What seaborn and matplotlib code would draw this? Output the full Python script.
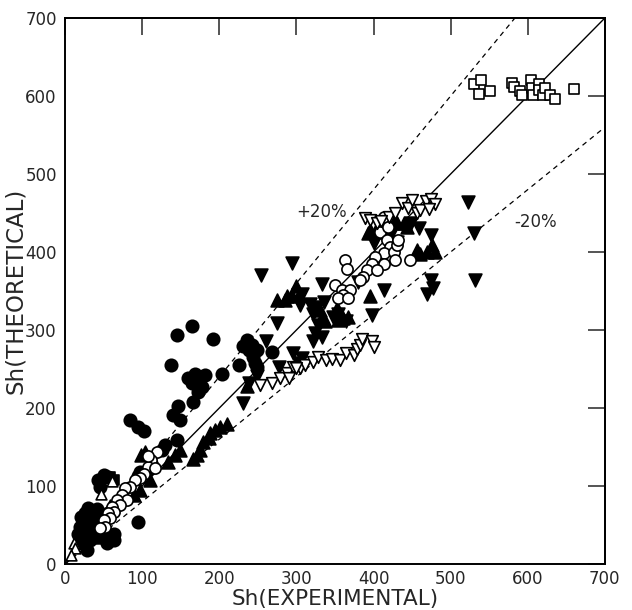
import numpy as np
import pandas as pd
import matplotlib
matplotlib.use("Agg")
import matplotlib.pyplot as plt
import seaborn as sns

# Sherwood number: experimental (x) vs theoretical (y), grouped by data set
filled_circle_x = [145, 164, 192, 138, 171, 164, 182, 177, 166, 140, 147, 149, 84, 95, 102,
                   203, 225, 236, 242, 249, 238, 244, 268, 249, 130, 145, 231, 246, 160, 168,
                   172, 126, 110, 94, 50, 43, 56, 45, 97, 26, 32, 24, 37, 19, 28, 41, 17, 26,
                   32, 54, 63, 63, 95, 50, 22, 28, 38, 45, 35, 20, 30, 55, 42]
filled_circle_y = [294, 305, 289, 255, 234, 232, 242, 227, 208, 191, 202, 185, 185, 176, 170,
                   244, 255, 287, 281, 274, 274, 266, 272, 253, 153, 159, 280, 258, 238, 244,
                   220, 146, 123, 113, 114, 108, 112, 99, 118, 65, 67, 56, 61, 48, 46, 52, 39, 35,
                   31, 27, 31, 39, 54, 35, 27, 18, 45, 40, 55, 60, 72, 65, 70]

open_circle_x = [363, 365, 414, 409, 419, 417, 422, 413, 402, 398, 391, 387, 383, 426, 430,
                 432, 428, 413, 404, 350, 359, 370, 361, 354, 367, 447,
                 119, 112, 108, 117, 102, 97, 91, 84, 78, 74, 80, 67, 71, 61, 63, 56, 58,
                 50, 52, 45, 107]
open_circle_y = [390, 378, 445, 426, 432, 416, 407, 399, 394, 385, 377, 368, 364, 400, 409,
                 415, 390, 385, 377, 358, 351, 351, 345, 341, 341, 390,
                 144, 133, 125, 123, 116, 110, 108, 99, 97, 88, 82, 82, 76, 73, 67, 65, 59,
                 56, 48, 46, 138]

filled_up_x = [396, 402, 393, 428, 430, 439, 443, 456, 460, 469, 476, 480, 396, 331, 333,
               352, 357, 361, 367, 354, 337, 300, 294, 303, 288, 275, 285, 210, 201, 195,
               188, 186, 179, 175, 171, 166, 149, 143, 134, 104, 99, 115, 102, 110, 97, 89,
               236, 30, 40, 35, 20, 48, 58]
filled_up_y = [428, 426, 424, 441, 437, 437, 432, 403, 398, 400, 409, 400, 343, 326, 317,
               328, 321, 315, 317, 313, 311, 356, 343, 345, 343, 339, 339, 180, 176, 172,
               168, 161, 157, 146, 140, 135, 146, 140, 131, 144, 140, 131, 118, 108, 95, 88,
               228, 40, 35, 50, 30, 62, 75]

filled_down_x = [254, 294, 317, 307, 275, 260, 249, 231, 296, 304, 278, 522, 530, 532, 475,
                 475, 477, 469, 398, 414, 380, 333, 322, 328, 322, 333, 354, 364, 336, 401,
                 422, 448, 459, 325, 305, 238, 307, 348, 402, 430, 324]
filled_down_y = [371, 386, 334, 346, 309, 286, 241, 206, 271, 258, 253, 464, 424, 364, 422,
                 364, 354, 346, 319, 351, 361, 359, 321, 306, 286, 291, 321, 311, 336, 411,
                 421, 437, 431, 329, 332, 232, 264, 317, 415, 413, 296]

open_down_x = [389, 396, 404, 437, 445, 450, 456, 460, 468, 475, 480, 472, 420, 428, 410,
               253, 268, 279, 288, 296, 305, 311, 322, 328, 338, 346, 357, 364, 375, 378,
               383, 385, 398, 401, 291, 299]
open_down_y = [443, 441, 437, 463, 456, 467, 450, 454, 466, 468, 462, 455, 445, 450, 440,
               229, 232, 238, 245, 253, 251, 255, 259, 266, 261, 263, 262, 271, 268, 276,
               281, 289, 286, 278, 238, 251]

open_square_x = [530, 540, 537, 551, 579, 582, 590, 592, 604, 605, 607, 614, 615, 620, 623,
                 629, 635, 660]
open_square_y = [616, 620, 602, 607, 617, 612, 606, 601, 620, 610, 601, 615, 608, 601, 610,
                 601, 596, 609]

open_up_x = [11, 13, 61, 47, 8]
open_up_y = [27, 20, 106, 90, 12]

filled_square_x = [63, 58]
filled_square_y = [108, 112]

tick_values = [0, 100, 200, 300, 400, 500, 600, 700]

sns.set_style("white")
plt.rcParams["font.family"] = ["DejaVu Sans"]

fig = plt.figure(figsize=(6.32, 6.10), dpi=100)
ax = fig.add_axes([0.103, 0.0754, 0.854, 0.895])

# reference lines: perfect agreement and +/-20 %
ax.plot([0, 700], [0, 700], color="black", lw=1.0, zorder=1)
ax.plot([0, 700 / 1.2], [0, 700], color="black", lw=0.9, dashes=(4, 3.5), zorder=1)
ax.plot([0, 700], [0, 560], color="black", lw=0.9, dashes=(4, 3.5), zorder=1)

series = [
    (filled_circle_x, filled_circle_y, "o", "black", 80),
    (filled_up_x, filled_up_y, "^", "black", 85),
    (filled_down_x, filled_down_y, "v", "black", 85),
    (filled_square_x, filled_square_y, "s", "black", 50),
    (open_circle_x, open_circle_y, "o", "white", 65),
    (open_down_x, open_down_y, "v", "white", 70),
    (open_up_x, open_up_y, "^", "white", 60),
    (open_square_x, open_square_y, "s", "white", 55),
]
for xs, ys, mk, face, size in series:
    df = pd.DataFrame({"exp": xs, "theo": ys})
    sns.scatterplot(data=df, x="exp", y="theo", marker=mk, s=size, color=face,
                    edgecolor="black", linewidth=1.2, ax=ax, zorder=3, legend=False)

ax.text(333, 451, "+20%", fontsize=12, ha="center", va="center")
ax.text(610, 438, "-20%", fontsize=12, ha="center", va="center")

ax.set_xlim(0, 700)
ax.set_ylim(0, 700)
ax.set_xticks(tick_values)
ax.set_yticks(tick_values)
ax.set_xticklabels([str(v) for v in tick_values], fontsize=12)
ax.set_yticklabels([str(v) for v in tick_values], fontsize=12)
ax.tick_params(axis="x", direction="in", length=12, width=1.1, pad=4, color="black")
ax.tick_params(axis="y", direction="out", length=5, width=1.1, pad=1, color="black")

# inward ticks on the top and right sides
top = ax.secondary_xaxis("top")
top.set_xticks(tick_values)
top.set_xticklabels([])
top.tick_params(direction="in", length=12, width=1.1)
right = ax.secondary_yaxis("right")
right.set_yticks(tick_values)
right.set_yticklabels([])
right.tick_params(direction="in", length=12, width=1.1)

for s in ax.spines.values():
    s.set_linewidth(1.4)
    s.set_color("black")
for s in list(top.spines.values()) + list(right.spines.values()):
    s.set_linewidth(1.4)

ax.set_xlabel("Sh(EXPERIMENTAL)", fontsize=15.5)
ax.set_ylabel("Sh(THEORETICAL)", fontsize=16.5)
ax.xaxis.set_label_coords(0.5, -0.045)
ax.yaxis.set_label_coords(-0.07, 0.5)

fig.savefig("out.png", dpi=100)
